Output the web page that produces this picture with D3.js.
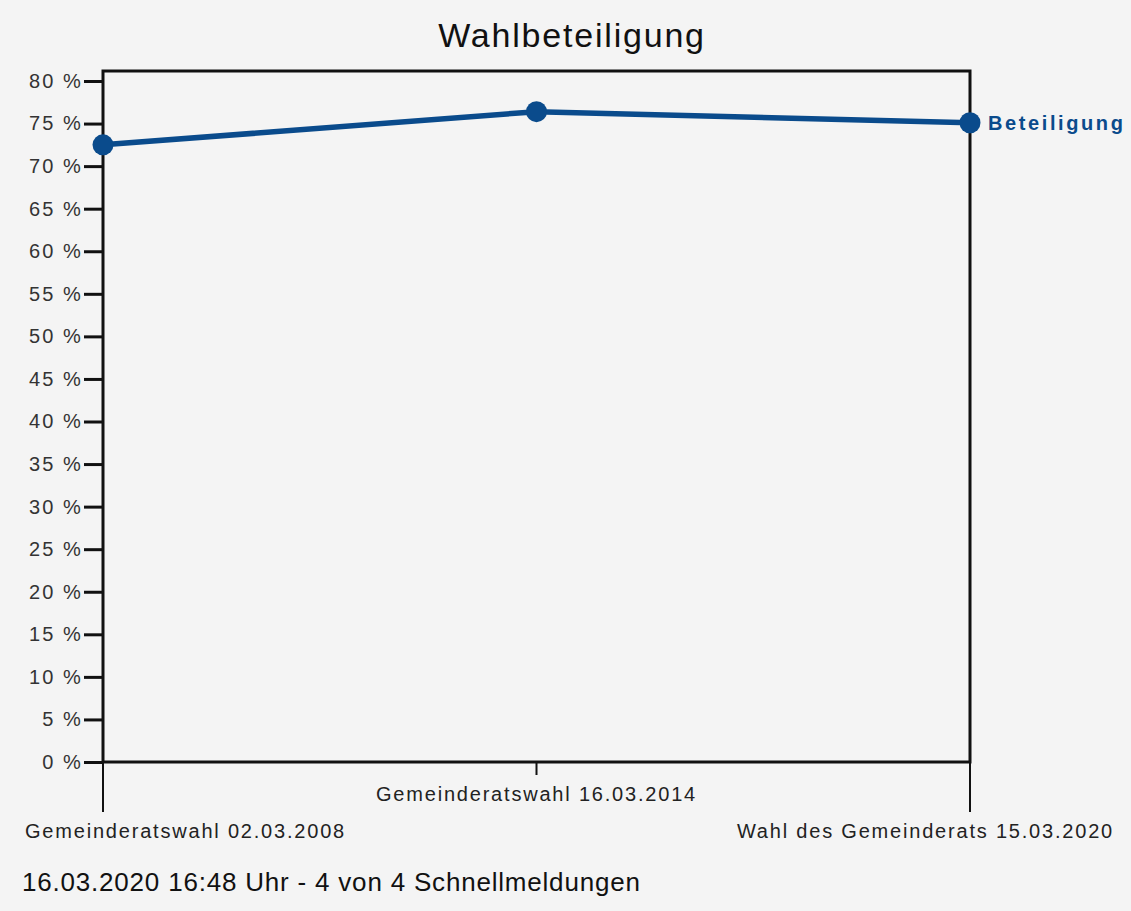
<!DOCTYPE html>
<html>
<head>
<meta charset="utf-8">
<script src="https://cdn.jsdelivr.net/npm/d3@7/dist/d3.min.js"></script>
<style>
  html, body { margin: 0; padding: 0; background: #f4f4f4; }
  svg { display: block; }
  text { font-family: "Liberation Sans", Arial, Helvetica, sans-serif; }
</style>
</head>
<body>
<script>
const categories = ["Gemeinderatswahl 02.03.2008", "Gemeinderatswahl 16.03.2014", "Wahl des Gemeinderats 15.03.2020"];
const seriesName = "Beteiligung";
const turnout = [72.5, 76.4, 75.1];
const yTicks = [0, 5, 10, 15, 20, 25, 30, 35, 40, 45, 50, 55, 60, 65, 70, 75, 80];
const title = "Wahlbeteiligung";
const footer = "16.03.2020 16:48 Uhr - 4 von 4 Schnellmeldungen";

(function () {
const W = 1131, H = 911;
const pLeft = 103, pRight = 970, pTop = 71, pBottom = 762;
const color = "#0a4b8c";

const svg = d3.select("body").append("svg").attr("width", W).attr("height", H);
svg.append("rect").attr("width", W).attr("height", H).attr("fill", "#f4f4f4");

const x = d3.scalePoint().domain(categories).range([pLeft, pRight]);
const y = d3.scaleLinear().domain([0, 80]).range([pBottom, 81]);

// title
svg.append("text").attr("x", 572).attr("y", 47).attr("text-anchor", "middle")
  .attr("font-size", 34).attr("letter-spacing", 1.8).attr("fill", "#111").text(title);

// plot frame
svg.append("rect").attr("x", pLeft).attr("y", pTop).attr("width", pRight - pLeft).attr("height", pBottom - pTop)
  .attr("fill", "none").attr("stroke", "#111").attr("stroke-width", 3);

// y axis
const yAxis = d3.axisLeft(y).tickValues(yTicks).tickSize(19).tickPadding(1).tickFormat(d => d + " %");
const gy = svg.append("g").attr("transform", `translate(${pLeft},0)`).call(yAxis);
gy.select(".domain").remove();
gy.selectAll(".tick line").attr("stroke", "#111").attr("stroke-width", 3);
gy.selectAll(".tick text").attr("font-size", 20).attr("letter-spacing", 2.1).attr("fill", "#333")
  .attr("font-family", "'Liberation Sans', Arial, sans-serif");

// x axis ticks
const gx = svg.append("g");
categories.forEach((c, i) => {
  const long = (i !== 1);
  gx.append("line").attr("x1", x(c)).attr("x2", x(c)).attr("y1", pBottom)
    .attr("y2", long ? 812 : 775).attr("stroke", "#111").attr("stroke-width", 2);
  let anchor = "middle", tx = x(c);
  if (i === 0) { anchor = "start"; tx = 25; }
  if (i === categories.length - 1) { anchor = "end"; tx = 1114; }
  gx.append("text").attr("x", tx).attr("y", long ? 838 : 801).attr("text-anchor", anchor)
    .attr("font-size", 20).attr("letter-spacing", 1.8).attr("fill", "#222").text(c);
});

// line
const line = d3.line().x((d, i) => x(categories[i])).y(d => y(d));
svg.append("path").datum(turnout).attr("d", line).attr("fill", "none")
  .attr("stroke", color).attr("stroke-width", 5.5).attr("stroke-linejoin", "round");

svg.selectAll("circle.pt").data(turnout).enter().append("circle").attr("class", "pt")
  .attr("cx", (d, i) => x(categories[i])).attr("cy", d => y(d)).attr("r", 10.5).attr("fill", color);

// series label
svg.append("text").attr("x", x(categories[2]) + 18).attr("y", y(turnout[2]))
  .attr("dy", "0.35em").attr("font-size", 20).attr("font-weight", "bold").attr("letter-spacing", 2.6)
  .attr("fill", color).text(seriesName);

// footer
svg.append("text").attr("x", 22).attr("y", 891).attr("font-size", 26).attr("letter-spacing", 0.8)
  .attr("fill", "#111").text(footer);
})();
</script>
</body>
</html>
